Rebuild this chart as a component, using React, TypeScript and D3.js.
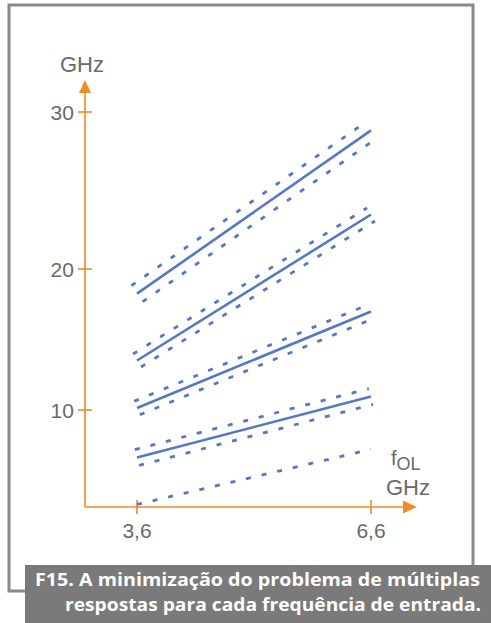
import React from "react";
import * as d3 from "d3";

// ---- data ----
const xTickValues = [3.6, 6.6];
const xTickLabels = ["3,6", "6,6"];
const yTickValues = [10, 20, 30];
const yTickLabels = ["10", "20", "30"];

// solid lines: fOL 3.6 -> 6.6
const solidX = [3.6, 6.6];
const solid1 = [18.25, 28.83];
const solid2 = [13.51, 23.47];
const solid3 = [10.14, 16.99];
const solid4 = [6.63, 10.96];

// dashed companion lines (x, y pairs)
const dash1UpperX = [3.528, 6.528];
const dash1UpperY = [18.82, 29.34];
const dash1LowerX = [3.672, 6.672];
const dash1LowerY = [17.68, 28.32];
const dash2UpperX = [3.549, 6.549];
const dash2UpperY = [13.97, 23.89];
const dash2LowerX = [3.651, 6.651];
const dash2LowerY = [13.05, 23.06];
const dash3UpperX = [3.564, 6.564];
const dash3UpperY = [10.62, 17.47];
const dash3LowerX = [3.636, 6.636];
const dash3LowerY = [9.66, 16.5];
const dash4UpperX = [3.573, 6.573];
const dash4UpperY = [7.19, 11.52];
const dash4LowerX = [3.627, 6.627];
const dash4LowerY = [6.07, 10.4];
const dash5X = [3.6, 6.6];
const dash5Y = [3.3, 7.21];

// axis extents (data units)
const xAxisMin = 2.933;
const xAxisMax = 7.19;
const yAxisMin = 3.12;
const yAxisMax = 32.04;

const captionLine1 = "F15. A minimização do problema de múltiplas";
const captionLine2 = "respostas para cada frequência de entrada.";

const W = 491;
const H = 623;
const ORANGE = "#f28a26";
const BLUE = "#5676c8";
const GRAY_TEXT = "#6a6a6a";

export default function App() {
  const x = d3.scaleLinear().domain([3.6, 6.6]).range([137, 371]);
  const y = d3.scaleLinear().domain([10, 20, 30]).range([410, 269, 112]);

  const line = d3
    .line<[number, number]>()
    .x((d) => x(d[0]))
    .y((d) => y(d[1]));
  const zip = (xs: number[], ys: number[]) =>
    xs.map((v, i) => [v, ys[i]] as [number, number]);

  const solids = [solid1, solid2, solid3, solid4].map((ys) => zip(solidX, ys));
  const dashed = [
    zip(dash1UpperX, dash1UpperY),
    zip(dash1LowerX, dash1LowerY),
    zip(dash2UpperX, dash2UpperY),
    zip(dash2LowerX, dash2LowerY),
    zip(dash3UpperX, dash3UpperY),
    zip(dash3LowerX, dash3LowerY),
    zip(dash4UpperX, dash4UpperY),
    zip(dash4LowerX, dash4LowerY),
    zip(dash5X, dash5Y),
  ];

  const ox = x(xAxisMin);
  const oy = y(yAxisMin);
  const xTip = x(xAxisMax);
  const yTip = y(yAxisMax);

  const font = "'Liberation Sans', Arial, sans-serif";

  return (
    <svg
      width={W}
      height={H}
      style={{ position: "absolute", left: 0, top: 0, background: "#fff" }}
    >
      {/* frame */}
      <rect x={9} y={5} width={464} height={586} fill="none" stroke="#8a8a8a" strokeWidth={3} />

      {/* axes */}
      <line x1={ox} y1={oy} x2={ox} y2={yTip + 10} stroke={ORANGE} strokeWidth={1.6} />
      <line x1={ox} y1={oy} x2={xTip - 10} y2={oy} stroke={ORANGE} strokeWidth={1.6} />
      <path d={`M${ox},${yTip} L${ox - 6},${yTip + 13} L${ox + 6},${yTip + 13} Z`} fill={ORANGE} />
      <path d={`M${xTip},${oy} L${xTip - 14},${oy - 6.5} L${xTip - 14},${oy + 6.5} Z`} fill={ORANGE} />

      {yTickValues.map((v, i) => (
        <g key={"yt" + v}>
          <line x1={ox - 7} x2={ox + 7} y1={y(v)} y2={y(v)} stroke={ORANGE} strokeWidth={1.6} />
          <text x={ox - 11} y={y(v) + 7.5} textAnchor="end" fontFamily={font} fontSize={21} fill={GRAY_TEXT}>
            {yTickLabels[i]}
          </text>
        </g>
      ))}
      {xTickValues.map((v, i) => (
        <g key={"xt" + v}>
          <line x1={x(v)} x2={x(v)} y1={oy - 7} y2={oy + 7} stroke={ORANGE} strokeWidth={1.6} />
          <text x={x(v)} y={oy + 31} textAnchor="middle" fontFamily={font} fontSize={21} fill={GRAY_TEXT}>
            {xTickLabels[i]}
          </text>
        </g>
      ))}

      {/* axis labels */}
      <text x={ox - 25} y={72} fontFamily={font} fontSize={22} fill={GRAY_TEXT}>GHz</text>
      <text x={391} y={465} fontFamily={font} fontSize={20} fill={GRAY_TEXT}>
        f<tspan dy={5} fontSize={18}>OL</tspan>
      </text>
      <text x={386} y={495} fontFamily={font} fontSize={22} fill={GRAY_TEXT}>GHz</text>

      {/* lines */}
      {dashed.map((d, i) => (
        <path
          key={"d" + i}
          d={line(d) || ""}
          fill="none"
          stroke={BLUE}
          strokeWidth={2.8}
          strokeDasharray="5 11"
        />
      ))}
      {solids.map((d, i) => (
        <path key={"s" + i} d={line(d) || ""} fill="none" stroke={BLUE} strokeWidth={2.6} />
      ))}

      {/* caption */}
      <rect x={25} y={565} width={W - 25} height={H - 565} fill="#7a7a7a" />
      <text
        x={480}
        y={586}
        textAnchor="end"
        fontFamily="'Open Sans', sans-serif"
        fontWeight={700}
        fontSize={18}
        fill="#fff"
        textLength={445}
        lengthAdjust="spacingAndGlyphs"
      >
        {captionLine1}
      </text>
      <text
        x={481}
        y={611}
        textAnchor="end"
        fontFamily="'Open Sans', sans-serif"
        fontWeight={700}
        fontSize={18}
        fill="#fff"
        textLength={416}
        lengthAdjust="spacingAndGlyphs"
      >
        {captionLine2}
      </text>
    </svg>
  );
}
